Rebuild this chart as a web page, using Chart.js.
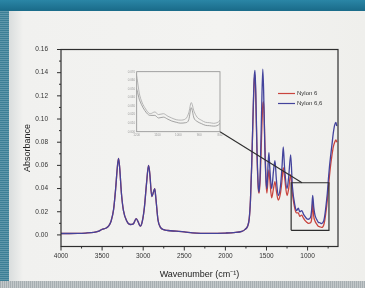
<!DOCTYPE html>
<html lang="en">
<head>
  <meta charset="UTF-8" />
  <title>FTIR spectra - Nylon 6 / Nylon 6,6</title>
  <script src="https://cdn.jsdelivr.net/npm/chart.js"></script>
  <style>
    body { margin: 0; width: 365px; height: 288px; overflow: hidden; position: relative;
           background: linear-gradient(#2a86a6, #1b6d8b 10px, #1b6d8b); font-family: "Liberation Sans", Arial, sans-serif; }
    #leftband { position: absolute; left: 0; top: 11px; width: 9px; height: 272px;
                background: repeating-linear-gradient(0deg, #3c7f96 0 1px, #5f97aa 1px 2px); }
    #panel { position: absolute; left: 9px; top: 11px; width: 356px; height: 270px;
             background: linear-gradient(90deg, #d9dddd, #f1f1ef 14px, #f3f3f1 60%, #efefec); }
    #bottomband { position: absolute; left: 0; top: 281px; width: 365px; height: 7px;
                  background: repeating-linear-gradient(90deg, #a6aeb1 0 1px, #c3c8ca 1px 2px); }
    #main { position: absolute; left: 0; top: 0; }
    #inset { position: absolute; left: 124px; top: 66px; }
  </style>
</head>
<body>
  <div id="leftband"></div>
  <div id="panel"></div>
  <div id="bottomband"></div>
  <canvas id="main" width="365" height="288"></canvas>
  <canvas id="inset" width="100" height="74"></canvas>

  <script>
    // spectrum (cm-1 / absorbance)
    const wavenumbers = [4000, 3900, 3800, 3700, 3600, 3550, 3500, 3450, 3420, 3390, 3360, 3335, 3315, 3300, 3285, 3265, 3240, 3200, 3160, 3120,
      3085, 3060, 3035, 3010, 2985, 2960, 2935, 2920, 2895, 2875, 2860, 2845, 2820, 2790, 2750, 2700, 2600, 2500, 2400, 2300,
      2200, 2100, 2000, 1900, 1800, 1760, 1730, 1710, 1695, 1680, 1665, 1650, 1640, 1630, 1615, 1600, 1590, 1575, 1560, 1545,
      1535, 1520, 1505, 1495, 1480, 1470, 1460, 1437, 1415, 1397, 1380, 1357, 1330, 1310, 1296, 1280, 1250, 1230, 1206, 1185,
      1153, 1135, 1113, 1095, 1072, 1050, 1032, 1010, 991, 965, 950, 938, 925, 910, 890, 870, 850, 830, 815, 802,
      790, 776, 760, 748, 735, 720, 705, 687, 670, 655, 645];

    const nylon66 = [0.0012, 0.0012, 0.0013, 0.0016, 0.0022, 0.003, 0.0048, 0.006, 0.0078, 0.012, 0.022, 0.040, 0.058, 0.066, 0.057, 0.036, 0.021, 0.012, 0.009, 0.0095,
      0.014, 0.011, 0.0075, 0.012, 0.024, 0.044, 0.060, 0.053, 0.033, 0.037, 0.040, 0.031, 0.013, 0.0065, 0.0045, 0.0038, 0.0032, 0.0026, 0.0018, 0.0014,
      0.0013, 0.0014, 0.0016, 0.002, 0.003, 0.0048, 0.0075, 0.014, 0.03, 0.06, 0.10, 0.135, 0.142, 0.122, 0.072, 0.042, 0.037, 0.058, 0.105, 0.143,
      0.125, 0.075, 0.046, 0.040, 0.062, 0.071, 0.058, 0.040, 0.055, 0.064, 0.048, 0.034, 0.042, 0.060, 0.076, 0.058, 0.040, 0.050, 0.069, 0.042,
      0.025, 0.021, 0.023, 0.020, 0.021, 0.018, 0.016, 0.014, 0.0135, 0.015, 0.022, 0.034, 0.024, 0.017, 0.0135, 0.011, 0.0105, 0.0098, 0.0105, 0.0125,
      0.017, 0.025, 0.036, 0.047, 0.058, 0.068, 0.077, 0.088, 0.095, 0.097, 0.094];

    const nylon6 = [0.0012, 0.0012, 0.0013, 0.0016, 0.0022, 0.003, 0.0048, 0.006, 0.0078, 0.012, 0.022, 0.040, 0.058, 0.066, 0.057, 0.036, 0.021, 0.012, 0.009, 0.0095,
      0.014, 0.011, 0.0075, 0.012, 0.024, 0.044, 0.060, 0.053, 0.033, 0.037, 0.040, 0.031, 0.013, 0.0065, 0.0045, 0.0038, 0.0032, 0.0026, 0.0018, 0.0014,
      0.0013, 0.0014, 0.0016, 0.002, 0.003, 0.0048, 0.0075, 0.014, 0.03, 0.06, 0.098, 0.132, 0.138, 0.118, 0.068, 0.040, 0.036, 0.050, 0.085, 0.112,
      0.115, 0.080, 0.045, 0.036, 0.050, 0.056, 0.048, 0.032, 0.040, 0.046, 0.038, 0.030, 0.036, 0.048, 0.058, 0.050, 0.034, 0.040, 0.052, 0.036,
      0.022, 0.019, 0.019, 0.016, 0.017, 0.0145, 0.0125, 0.011, 0.010, 0.0105, 0.014, 0.028, 0.016, 0.012, 0.0095, 0.0075, 0.007, 0.0065, 0.007, 0.009,
      0.013, 0.020, 0.030, 0.040, 0.050, 0.060, 0.068, 0.076, 0.080, 0.082, 0.080];

    const xTicks = [4000, 3500, 3000, 2500, 2000, 1500, 1000];
    const xMinor = [3750, 3250, 2750, 2250, 1750, 1250, 750];
    const yTicks = [0, 0.02, 0.04, 0.06, 0.08, 0.10, 0.12, 0.14, 0.16];
    const yMinor = [0.01, 0.03, 0.05, 0.07, 0.09, 0.11, 0.13, 0.15];

    // zoomed region (shown in the inset) and where the callout meets it
    const boxWn = [1200, 740];
    const boxAbs = [0.004, 0.045];
    const calloutEnd = [1068, 0.045];

    const insetXTicks = [1200, 1100, 1000, 900, 800];
    const insetYTicks = [0, 0.01, 0.02, 0.03, 0.04, 0.05, 0.06, 0.07];

    const blue = '#43439c';
    const red = '#c9443e';
    const ink = '#2e2e2e';

    const pts = ys => wavenumbers.map((w, i) => ({ x: w, y: ys[i] }));
    const boxPts = [
      { x: boxWn[0], y: boxAbs[0] }, { x: boxWn[1], y: boxAbs[0] },
      { x: boxWn[1], y: boxAbs[1] }, { x: boxWn[0], y: boxAbs[1] }, { x: boxWn[0], y: boxAbs[0] }
    ];

    // ---- inset ----
    const insetFrame = {
      id: 'insetFrame',
      afterDraw(c) {
        const a = c.chartArea, g = c.ctx;
        g.save();
        g.strokeStyle = '#8d8d8d';
        g.lineWidth = 0.8;
        g.strokeRect(a.left, a.top, a.right - a.left, a.bottom - a.top);
        g.restore();
      }
    };

    const inset = new Chart(document.getElementById('inset'), {
      type: 'line',
      data: {
        datasets: [
          { data: pts(nylon66), borderColor: '#a6a6a6', borderWidth: 0.8, pointRadius: 0, cubicInterpolationMode: 'monotone' },
          { data: pts(nylon6), borderColor: '#8e8e8e', borderWidth: 0.8, pointRadius: 0, cubicInterpolationMode: 'monotone' }
        ]
      },
      options: {
        responsive: false,
        animation: false,
        layout: { padding: { left: 0, top: 5.7, right: 4, bottom: 0 } },
        plugins: { legend: { display: false }, tooltip: { enabled: false } },
        scales: {
          x: {
            type: 'linear', reverse: true, min: 800, max: 1200,
            afterBuildTicks: s => { s.ticks = insetXTicks.map(v => ({ value: v })); },
            afterFit: s => { s.height = 8.3; },
            grid: { display: false, drawTicks: false }, border: { display: false },
            ticks: { font: { size: 3 }, color: '#9a9a9a', padding: 1.5, maxRotation: 0, autoSkip: false, callback: v => String(v) }
          },
          y: {
            min: 0, max: 0.07,
            afterBuildTicks: s => { s.ticks = insetYTicks.map(v => ({ value: v })); },
            afterFit: s => { s.width = 12.7; },
            grid: { display: false, drawTicks: false }, border: { display: false },
            ticks: { font: { size: 3 }, color: '#9a9a9a', padding: 1.5, callback: v => v.toFixed(3) }
          }
        }
      },
      plugins: [insetFrame]
    });

    // ---- main chart ----
    const decorations = {
      id: 'decorations',
      afterDraw(c) {
        const a = c.chartArea, g = c.ctx, xs = c.scales.x, ys = c.scales.y;
        g.save();
        g.strokeStyle = ink;
        g.lineWidth = 1.2;
        g.strokeRect(a.left, a.top, a.right - a.left, a.bottom - a.top);

        g.lineWidth = 1;
        g.beginPath();
        yTicks.forEach(v => { const p = ys.getPixelForValue(v); g.moveTo(a.left, p); g.lineTo(a.left - 4, p); });
        yMinor.forEach(v => { const p = ys.getPixelForValue(v); g.moveTo(a.left, p); g.lineTo(a.left - 2, p); });
        xTicks.forEach(v => { const p = xs.getPixelForValue(v); g.moveTo(p, a.bottom); g.lineTo(p, a.bottom + 4); });
        xMinor.forEach(v => { const p = xs.getPixelForValue(v); g.moveTo(p, a.bottom); g.lineTo(p, a.bottom + 2); });
        g.stroke();

        // callout from inset corner to the zoom box
        const ia = inset.chartArea;
        g.lineWidth = 1.1;
        g.beginPath();
        g.moveTo(124 + ia.right, 66 + ia.bottom);
        g.lineTo(xs.getPixelForValue(calloutEnd[0]), ys.getPixelForValue(calloutEnd[1]));
        g.stroke();

        // legend
        const lx = a.right - 60, ly = a.top + 44;
        g.font = '6px "Liberation Sans", Arial, sans-serif';
        g.textBaseline = 'middle';
        g.fillStyle = '#333';
        [['Nylon 6', red], ['Nylon 6,6', blue]].forEach(([t, col], i) => {
          g.strokeStyle = col;
          g.lineWidth = 1.2;
          g.beginPath();
          g.moveTo(lx, ly + i * 10);
          g.lineTo(lx + 17, ly + i * 10);
          g.stroke();
          g.fillText(t, lx + 19, ly + i * 10);
        });
        g.restore();
      }
    };

    new Chart(document.getElementById('main'), {
      type: 'line',
      data: {
        datasets: [
          { label: 'zoom', data: boxPts, borderColor: ink, borderWidth: 1.2, pointRadius: 0, tension: 0, order: 0 },
          { label: 'Nylon 6,6', data: pts(nylon66), borderColor: blue, borderWidth: 1.3, pointRadius: 0, cubicInterpolationMode: 'monotone', order: 1 },
          { label: 'Nylon 6', data: pts(nylon6), borderColor: red, borderWidth: 1.3, pointRadius: 0, cubicInterpolationMode: 'monotone', order: 2 }
        ]
      },
      options: {
        responsive: false,
        animation: false,
        layout: { padding: { left: 17, top: 49.5, right: 27, bottom: 6 } },
        plugins: { legend: { display: false }, tooltip: { enabled: false } },
        scales: {
          x: {
            type: 'linear', reverse: true, min: 630, max: 4000,
            afterBuildTicks: s => { s.ticks = xTicks.map(v => ({ value: v })); },
            afterFit: s => { s.height = 35.5; },
            grid: { display: false, drawTicks: false }, border: { display: false },
            ticks: { font: { size: 6.5 }, color: '#333', padding: 6, maxRotation: 0, autoSkip: false, callback: v => String(v) },
            title: { display: true, text: 'Wavenumber (cm⁻¹)', font: { size: 9 }, color: '#222', padding: { top: 0, bottom: 2 } }
          },
          y: {
            min: -0.01, max: 0.16,
            afterBuildTicks: s => { s.ticks = yTicks.map(v => ({ value: v })); },
            afterFit: s => { s.width = 44; },
            grid: { display: false, drawTicks: false }, border: { display: false },
            ticks: { font: { size: 6.5 }, color: '#333', padding: 13, callback: v => v.toFixed(2) },
            title: { display: true, text: 'Absorbance', font: { size: 9 }, color: '#222', padding: { top: 5, bottom: 0 } }
          }
        }
      },
      plugins: [decorations]
    });
  </script>
</body>
</html>
